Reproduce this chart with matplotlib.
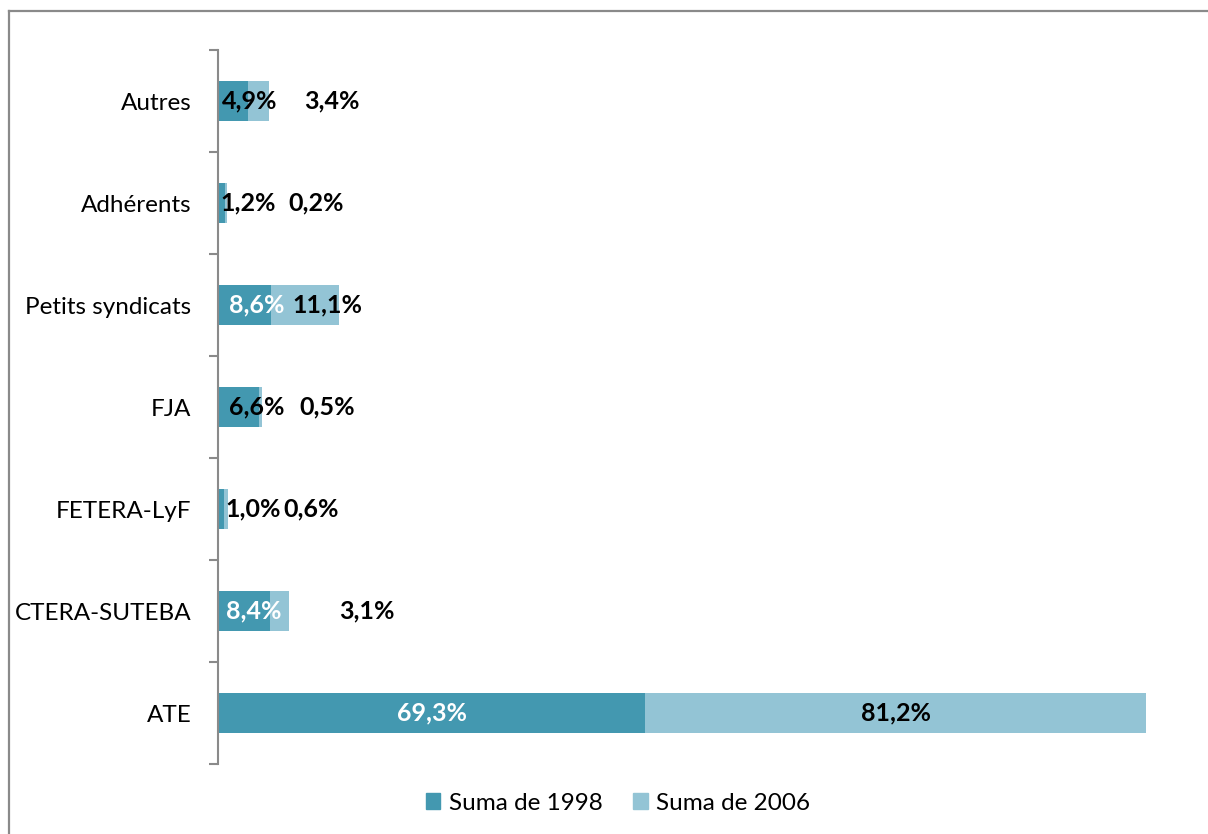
import matplotlib
matplotlib.use("Agg")
import matplotlib.pyplot as plt
from matplotlib.lines import Line2D
from matplotlib.patches import Patch

categories = ["Autres", "Adhérents", "Petits syndicats", "FJA", "FETERA-LyF", "CTERA-SUTEBA", "ATE"]
values_1998 = [4.9, 1.2, 8.6, 6.6, 1.0, 8.4, 69.3]
values_2006 = [3.4, 0.2, 11.1, 0.5, 0.6, 3.1, 81.2]
series_names = ["Suma de 1998", "Suma de 2006"]
# data-label anchor positions (x, in axis units) as placed in the original
label_x_1998 = [5.2, 4.9, 6.3, 6.3, 5.7, 5.8, 34.65]
label_x_2006 = [18.5, 15.9, 17.7, 17.7, 15.1, 24.2, 109.9]
label_color_1998 = ["black", "black", "white", "black", "black", "white", "white"]
label_color_2006 = ["black"] * 7

C1 = "#4398B0"
C2 = "#93C4D5"
FONT = "Lato"

W, H = 1208, 834
fig = plt.figure(figsize=(W / 100, H / 100), dpi=100)
fig.patch.set_facecolor("white")

# chart frame (top and left edges visible)
fig.add_artist(Line2D([8.5 / W, 8.5 / W], [0, 1 - 10.5 / H], transform=fig.transFigure, color="#8a8a8a", lw=1.6))
fig.add_artist(Line2D([8.5 / W, 1], [1 - 10.5 / H, 1 - 10.5 / H], transform=fig.transFigure, color="#8a8a8a", lw=1.6))

left, right = 218 / W, 1200 / W
bottom, top = (H - 764) / H, (H - 50) / H
ax = fig.add_axes([left, bottom, right - left, top - bottom])
xmax = (1200 - 218) / ((1146 - 218) / 150.5)
ax.set_xlim(0, xmax)
ax.set_ylim(len(categories) - 0.5, -0.5)

ypos = list(range(len(categories)))
ax.barh(ypos, values_1998, height=0.39, color=C1, label=series_names[0])
ax.barh(ypos, values_2006, left=values_1998, height=0.39, color=C2, label=series_names[1])

for i in ypos:
    ax.text(label_x_1998[i], i, f"{values_1998[i]:.1f}%".replace(".", ","), ha="center", va="center",
            fontsize=18, fontweight="bold", color=label_color_1998[i], family=FONT)
    ax.text(label_x_2006[i], i, f"{values_2006[i]:.1f}%".replace(".", ","), ha="center", va="center",
            fontsize=18, fontweight="bold", color=label_color_2006[i], family=FONT)

for s in ["top", "right", "bottom"]:
    ax.spines[s].set_visible(False)
ax.spines["left"].set_color("#8a8a8a")
ax.spines["left"].set_linewidth(1.5)
ax.set_xticks([])
ax.set_yticks(ypos)
ax.set_yticklabels(categories, family=FONT, fontsize=17.5)
ax.tick_params(axis="y", which="major", length=0, pad=19)
ax.set_yticks([i - 0.5 for i in range(len(categories) + 1)], minor=True)
ax.tick_params(axis="y", which="minor", length=6.5, width=1.5, color="#8a8a8a")

handles = [Patch(color=C1), Patch(color=C2)]
fig.legend(handles, series_names, loc="center", bbox_to_anchor=(618 / W, 1 - 803 / H), ncol=2,
           frameon=False, prop={"family": FONT, "size": 17.5}, handlelength=0.6, handleheight=0.6,
           handletextpad=0.35, columnspacing=1.25)

fig.savefig("out.png", dpi=100, facecolor="white")
